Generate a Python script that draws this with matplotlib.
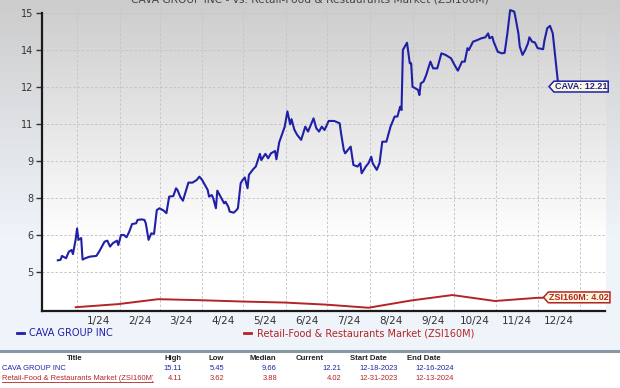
"""
CAVA vs. Retail-Food & Restaurants Market price chart
"""

import matplotlib

matplotlib.use("Agg")
import matplotlib.dates as mdates
import numpy as np
import pandas as pd
from matplotlib import pyplot as plt
from matplotlib.lines import Line2D
from matplotlib.path import Path
from matplotlib.transforms import Bbox, TransformedBbox

W, H = 620, 388

# ---- data ----
CAVA_DATES = [
    "2023-12-18", "2023-12-20", "2023-12-21", "2023-12-24", "2023-12-26", "2023-12-28", "2023-12-29",
    "2023-12-31", "2024-01-01", "2024-01-02", "2024-01-04", "2024-01-05", "2024-01-07", "2024-01-10",
    "2024-01-15", "2024-01-17", "2024-01-21", "2024-01-23", "2024-01-25", "2024-01-27", "2024-01-30",
    "2024-01-31", "2024-02-02", "2024-02-04", "2024-02-06", "2024-02-08", "2024-02-10", "2024-02-13",
    "2024-02-14", "2024-02-17", "2024-02-19", "2024-02-20", "2024-02-22", "2024-02-24", "2024-02-26",
    "2024-02-28", "2024-03-01", "2024-03-04", "2024-03-06", "2024-03-08", "2024-03-11", "2024-03-13",
    "2024-03-14", "2024-03-16", "2024-03-18", "2024-03-22", "2024-03-25", "2024-03-28", "2024-03-30",
    "2024-04-01", "2024-04-03", "2024-04-05", "2024-04-06", "2024-04-08", "2024-04-09", "2024-04-11",
    "2024-04-12", "2024-04-15", "2024-04-17", "2024-04-18", "2024-04-20", "2024-04-21", "2024-04-24",
    "2024-04-26", "2024-04-27", "2024-04-29", "2024-04-30", "2024-05-02", "2024-05-04", "2024-05-05",
    "2024-05-08", "2024-05-10", "2024-05-13", "2024-05-14", "2024-05-17", "2024-05-19", "2024-05-21",
    "2024-05-24", "2024-05-25", "2024-05-27", "2024-05-29", "2024-05-31", "2024-06-02", "2024-06-04",
    "2024-06-05", "2024-06-07", "2024-06-09", "2024-06-12", "2024-06-15", "2024-06-17", "2024-06-21",
    "2024-06-23", "2024-06-25", "2024-06-27", "2024-06-29", "2024-07-02", "2024-07-06", "2024-07-10",
    "2024-07-11", "2024-07-13", "2024-07-14", "2024-07-17", "2024-07-18", "2024-07-20", "2024-07-23",
    "2024-07-25", "2024-07-26", "2024-07-29", "2024-07-31", "2024-08-02", "2024-08-03", "2024-08-06",
    "2024-08-08", "2024-08-10", "2024-08-13", "2024-08-16", "2024-08-19", "2024-08-21", "2024-08-23",
    "2024-08-24", "2024-08-25", "2024-08-28", "2024-08-30", "2024-08-31", "2024-09-01", "2024-09-03",
    "2024-09-05", "2024-09-06", "2024-09-07", "2024-09-09", "2024-09-11", "2024-09-14", "2024-09-16",
    "2024-09-19", "2024-09-22", "2024-09-25", "2024-09-29", "2024-10-02", "2024-10-04", "2024-10-07",
    "2024-10-09", "2024-10-11", "2024-10-12", "2024-10-15", "2024-10-18", "2024-10-21", "2024-10-24",
    "2024-10-26", "2024-10-27", "2024-10-29", "2024-10-30", "2024-11-02", "2024-11-05", "2024-11-07",
    "2024-11-09", "2024-11-11", "2024-11-14", "2024-11-15", "2024-11-17", "2024-11-18", "2024-11-20",
    "2024-11-22", "2024-11-24", "2024-11-25", "2024-11-27", "2024-11-29", "2024-12-01", "2024-12-05",
    "2024-12-06", "2024-12-08", "2024-12-10", "2024-12-12", "2024-12-16",
]
CAVA_VALUES = [
    5.45, 5.47, 5.62, 5.53, 5.78, 5.85, 5.69,
    6.26, 6.68, 6.24, 6.31, 5.48, 5.53, 5.59,
    5.62, 5.78, 6.17, 6.21, 5.98, 6.11, 6.21,
    6.04, 6.43, 6.43, 6.34, 6.56, 6.85, 6.88,
    7.01, 7.03, 7.01, 6.88, 6.24, 6.49, 6.47,
    7.39, 7.46, 7.37, 7.27, 7.91, 7.93, 8.23,
    8.17, 7.91, 7.75, 8.45, 8.45, 8.55, 8.68,
    8.55, 8.36, 8.17, 7.91, 7.97, 7.85, 7.46,
    8.14, 7.85, 7.65, 7.71, 7.52, 7.33, 7.29,
    7.39, 7.46, 8.42, 8.52, 8.65, 8.23, 8.75,
    8.96, 9.07, 9.56, 9.32, 9.56, 9.39, 9.58,
    9.67, 9.35, 10.00, 10.30, 10.60, 11.20, 10.70,
    10.90, 10.50, 10.30, 10.10, 10.61, 10.42, 10.93,
    10.55, 10.42, 10.61, 10.48, 10.83, 10.83, 10.74,
    10.36, 9.71, 9.58, 9.78, 9.84, 9.13, 9.07,
    9.20, 8.81, 9.07, 9.20, 9.45, 9.20, 8.94,
    9.20, 10.03, 10.03, 10.61, 11.00, 11.00, 11.38,
    11.25, 13.57, 13.85, 13.06, 13.06, 12.15, 12.09,
    12.03, 11.83, 12.28, 12.35, 12.61, 13.12, 12.86,
    12.86, 13.44, 13.38, 13.25, 12.95, 12.77, 13.12,
    13.12, 13.64, 13.57, 13.89, 13.95, 14.02, 14.06,
    14.21, 14.02, 14.08, 13.89, 13.50, 13.44, 13.46,
    14.21, 15.11, 15.05, 14.79, 14.21, 13.70, 13.38,
    13.57, 13.83, 14.06, 13.89, 13.86, 13.64, 13.60,
    13.95, 14.41, 14.50, 14.21, 12.21,
]

ZSI_DATES = [
    "2023-12-31", "2024-01-31", "2024-02-29", "2024-03-31", "2024-04-30", "2024-05-31", "2024-06-30",
    "2024-07-31", "2024-08-31", "2024-09-30", "2024-10-31", "2024-11-30", "2024-12-13",
]
ZSI_VALUES = [3.64, 3.76, 3.95, 3.91, 3.86, 3.82, 3.74, 3.62, 3.90, 4.11, 3.88, 4.00, 4.02]

MONTH_LABELS = ["1/24", "2/24", "3/24", "4/24", "5/24", "6/24", "7/24", "8/24", "9/24", "10/24", "11/24", "12/24"]

TABLE_HEADER = ["Title", "High", "Low", "Median", "Current", "Start Date", "End Date"]
TABLE_ROWS = [
    ["CAVA GROUP INC", "15.11", "5.45", "9.66", "12.21", "12-18-2023", "12-16-2024"],
    ["Retail-Food & Restaurants Market (ZSI160M)", "4.11", "3.62", "3.88", "4.02", "12-31-2023", "12-13-2024"],
]

BLUE = "#1f1fa8"
RED = "#b42424"


def tag_box(x0, y0, width, height, mutation_size):
    """price tag shaped box: flat box with a pointed left side"""
    pad = 0.1 * mutation_size
    x0, y0 = x0 - pad, y0 - pad
    width, height = width + 2 * pad, height + 2 * pad
    tip = height * 0.45
    verts = [
        (x0 - tip, y0 + height / 2), (x0, y0), (x0 + width, y0),
        (x0 + width, y0 + height), (x0, y0 + height), (x0 - tip, y0 + height / 2),
    ]
    codes = [Path.MOVETO] + [Path.LINETO] * 4 + [Path.CLOSEPOLY]
    return Path(verts, codes)


def px(x, y):
    """pixel (from top-left) -> figure coords"""
    return x / W, 1 - y / H


def main():
    cava_d = pd.to_datetime(CAVA_DATES)
    zsi_d = pd.to_datetime(ZSI_DATES)

    fig = plt.figure(figsize=(W / 100, H / 100), dpi=100)

    # background: grey fading to white inside the plot, bluish white in margins
    ys = np.arange(H)[:, None]
    xs = np.arange(W)[None, :]
    t = np.clip(ys / 240, 0, 1)
    inside = (xs >= 42) & (xs <= 605) & (ys <= 311)
    img = np.zeros((H, W, 3))
    for c, (top, low_in, low_out) in enumerate([(0.80, 1.0, 0.94), (0.80, 1.0, 0.96), (0.80, 1.0, 0.985)]):
        img[:, :, c] = np.where(inside, top + (low_in - top) * t, top + (low_out - top) * t)
    img[352:, :, :] = 1.0
    bg = fig.add_axes([0, 0, 1, 1], zorder=-10)
    bg.imshow(img, aspect="auto", extent=[0, 1, 0, 1], origin="upper", interpolation="bilinear")
    bg.axis("off")

    l, b = px(42, 311)
    r, tp = px(605, 8)
    ax = fig.add_axes([l, b, r - l, tp - b])
    ax.patch.set_alpha(0)

    ax.plot(cava_d, CAVA_VALUES, color=BLUE, lw=1.5, clip_on=False, solid_joinstyle="round", zorder=3)
    ax.plot(zsi_d, ZSI_VALUES, color=RED, lw=1.4, clip_on=False, zorder=3)

    ax.set_xlim(mdates.date2num(pd.Timestamp("2023-12-06 12:00")), mdates.date2num(pd.Timestamp("2025-01-19")))
    ax.set_ylim(3.494, 15.19)

    # y ticks: 8 evenly spaced values from 5 to 15, rounded labels
    yt = 5 + np.arange(8) * 10 / 7
    ax.set_yticks(yt)
    ax.set_yticklabels([f"{v:.0f}" for v in yt])

    month_starts = pd.date_range("2024-01-01", "2025-01-01", freq="MS")
    ms = mdates.date2num(month_starts)
    ax.set_xticks(ms)
    ax.set_xticklabels([])
    ax.set_xticks((ms[:-1] + ms[1:]) / 2, minor=True)
    ax.set_xticklabels(MONTH_LABELS, minor=True)

    ax.tick_params(axis="x", which="both", length=0)
    ax.tick_params(axis="x", which="minor", labelsize=7.5, labelcolor="#333333", pad=3.5)
    ax.tick_params(axis="y", length=4, width=1, color="#333333", labelsize=7, labelcolor="#333333", pad=2)

    ax.grid(True, which="major", color="#c6c6c6", lw=0.7, ls=(0, (2.5, 2)))
    for s in ["top", "right"]:
        ax.spines[s].set_visible(False)
    for s in ["left", "bottom"]:
        ax.spines[s].set_color("#1a1a1a")
        ax.spines[s].set_linewidth(1.6)
    ax.spines["left"].set_bounds(3.494, 15.0)

    # end-value tags
    ax.annotate(
        f"CAVA: {CAVA_VALUES[-1]:.2f}", xy=(cava_d[-1], CAVA_VALUES[-1]), xytext=(-2.5, -1),
        textcoords="offset points", ha="left", va="center", fontsize=6.5, fontweight="bold",
        family="Liberation Sans", color=BLUE, annotation_clip=False, zorder=5,
        bbox=dict(boxstyle=tag_box, fc="#fdf9dc", ec=BLUE, lw=1.1),
    )
    ax.annotate(
        f"ZSI160M: {ZSI_VALUES[-1]:.2f}", xy=(zsi_d[-1], ZSI_VALUES[-1]), xytext=(-3.5, 0),
        textcoords="offset points", ha="left", va="center", fontsize=6.5, fontweight="bold",
        family="Liberation Sans", color=RED, annotation_clip=False, zorder=5,
        bbox=dict(boxstyle=tag_box, fc="#fdf9dc", ec=RED, lw=1.1),
    )

    # title (mostly cut off at top of image)
    fig.text(*px(310, 3), "CAVA GROUP INC - vs. Retail-Food & Restaurants Market (ZSI160M)",
             ha="center", va="baseline", fontsize=7.7, color="#444444")

    # legend
    leg = fig.legend(
        [Line2D([], [], color=BLUE, lw=2), Line2D([], [], color=RED, lw=2)],
        ["CAVA GROUP INC", "Retail-Food & Restaurants Market (ZSI160M)"],
        loc="center left", bbox_to_anchor=px(8, 333), ncol=2, frameon=False, fontsize=7,
        handlelength=0.7, handletextpad=0.6, columnspacing=13.5, labelcolor="linecolor",
    )

    # separator + table
    fig.add_artist(Line2D([0, 1], [1 - 351 / H] * 2, color="#8a98a6", lw=2.2, transform=fig.transFigure))

    hdr_x = [75, 173, 216, 263, 310, 368, 424]
    val_x = [2, 182, 224, 277, 341, 398, 454]
    for hx, h in zip(hdr_x, TABLE_HEADER):
        fig.text(*px(hx, 359), h, ha="center", va="center", fontsize=5.6, fontweight="bold",
                 family="Liberation Sans", color="#222222")
    for row, ry, col in zip(TABLE_ROWS, [368, 378], [BLUE, RED]):
        for i, (vx, v) in enumerate(zip(val_x, row)):
            t = fig.text(*px(vx, ry), v, ha="left" if i == 0 else "right", va="center", fontsize=5.4,
                         family="Liberation Sans", color=col)
            if i == 0:
                t.set_clip_box(TransformedBbox(Bbox([[0, 0], [153 / W, 1]]), fig.transFigure))
                t.set_clip_on(True)
    fig.add_artist(Line2D([2 / W, 153 / W], [1 - 382 / H] * 2, color=RED, lw=0.6, transform=fig.transFigure))

    fig.savefig("out.png", dpi=100)


if __name__ == '__main__':
    main()
